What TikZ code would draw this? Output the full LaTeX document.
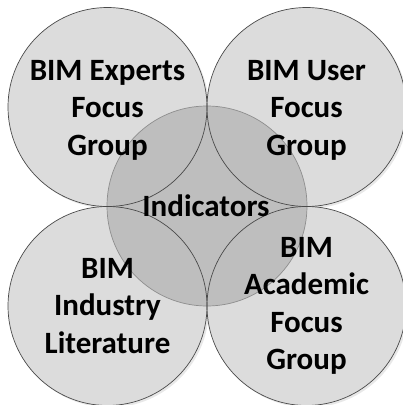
\documentclass[tikz,border=0pt]{standalone}
\usepackage{fontspec}
\setmainfont{Carlito}
\definecolor{outerfill}{HTML}{DCDCDC}
\definecolor{innerfill}{HTML}{BEBEBE}
\definecolor{outerline}{HTML}{4A4A4A}
\definecolor{innerline}{HTML}{8E8E8E}
\definecolor{shadowc}{HTML}{E8E8E8}
\tikzset{
  outercirc/.style={fill=outerfill},
  outerrim/.style={draw=outerline, line width=0.7pt},
  innercirc/.style={fill=innerfill},
  innerrim/.style={draw=innerline, line width=0.7pt},
  shadowcirc/.style={fill=shadowc},
  lbl/.style={align=center, inner sep=0pt, text=black,
    font=\fontsize{31}{37.5}\selectfont\bfseries}
}
\begin{document}
\begin{tikzpicture}[x=1pt,y=-1pt]
\useasboundingbox (0,0) rectangle (403,405);
\fill[white] (0,0) rectangle (403,405);
% shadows
\foreach \cx/\cy in {107.5/107, 306.5/107, 107.5/306, 306.5/306}
  \path[shadowcirc] (\cx+2,\cy+2) circle[radius=99.5];
% outer fills
\foreach \cx/\cy in {107.5/107, 306.5/107, 107.5/306, 306.5/306}
  \path[outercirc] (\cx,\cy) circle[radius=99.5];
% central circle
\path[innercirc] (207,206) circle[radius=100];
% outlines
\path[innerrim] (207,206) circle[radius=100];
\foreach \cx/\cy in {107.5/107, 306.5/107, 107.5/306, 306.5/306}
  \path[outerrim] (\cx,\cy) circle[radius=99.5];
% labels
\node[lbl] (experts) at (107.5,110) {BIM Experts\\Focus\\Group};
\node[lbl] (user) at (306.5,110) {BIM User\\Focus\\Group};
\node[lbl] (industry) at (107.5,306) {BIM\\Industry\\Literature};
\node[lbl] (academic) at (306.5,306) {BIM\\Academic\\Focus\\Group};
\node[lbl] (indicators) at (206,206) {Indicators};
\end{tikzpicture}
\end{document}
